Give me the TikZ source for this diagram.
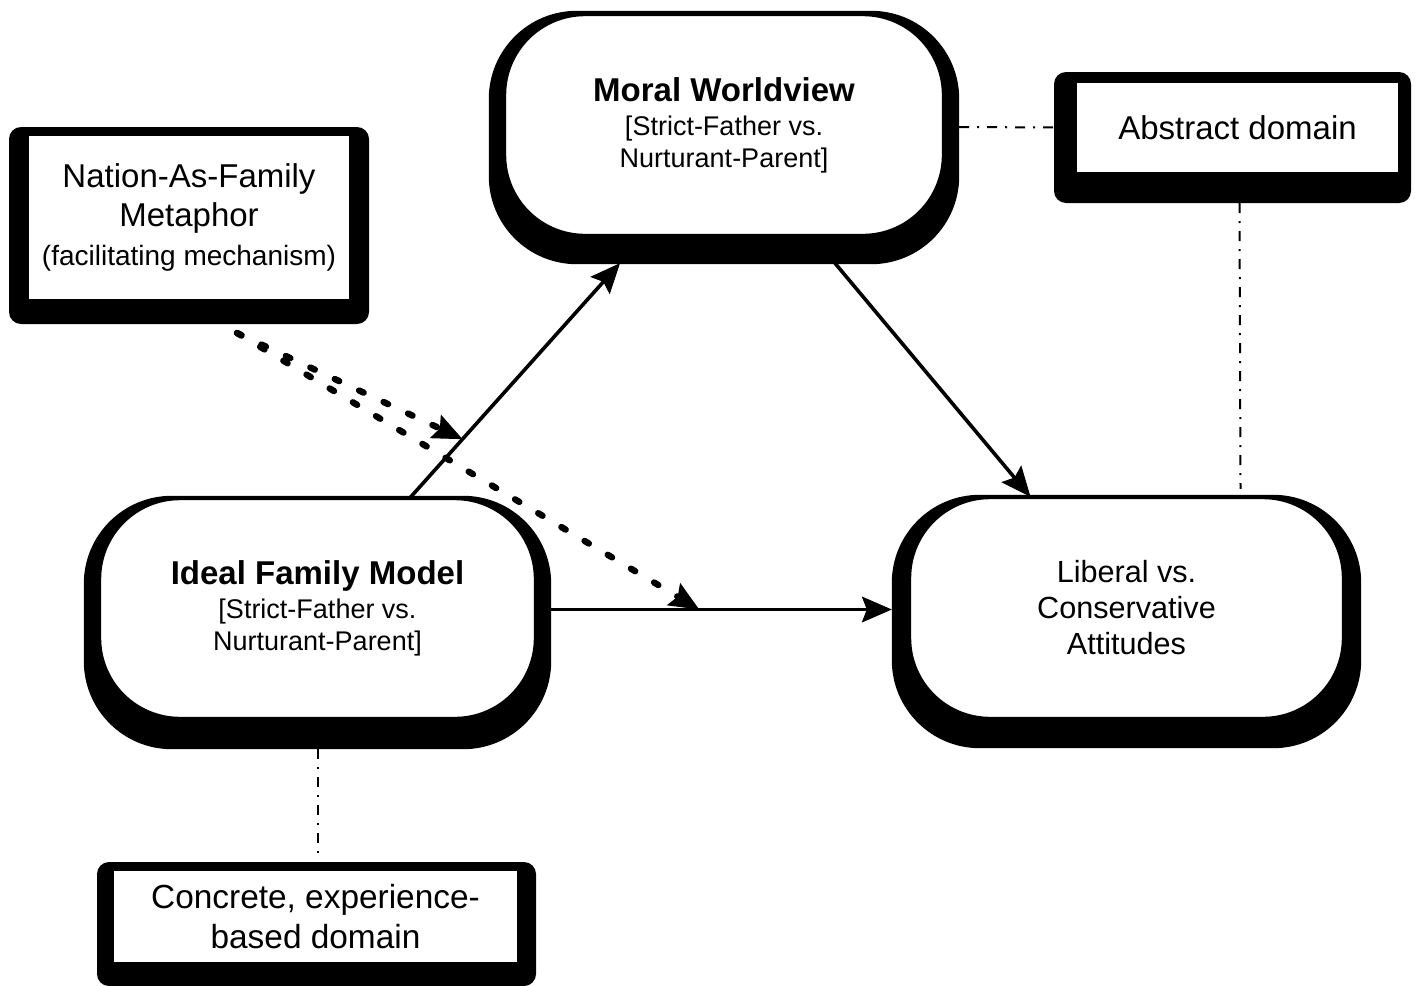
\documentclass[tikz,border=0pt]{standalone}
\usepackage{fontspec}
\setmainfont{Liberation Sans}
\usetikzlibrary{arrows.meta,calc}
\pgfdeclarelayer{bg}
\pgfsetlayers{bg,main}
\newcommand\myshadow[6]{\fill[black,rounded corners=#6] ($(#1.north west)+(-#2,-#3)$) rectangle ($(#1.south east)+(#4,#5)$);}
\begin{document}
\begin{tikzpicture}[x=0.5pt,y=-0.5pt,
 rbox/.style={draw,line width=1.2pt,fill=white,rounded corners=40pt,inner sep=0pt,align=center},
 sbox/.style={draw,line width=1pt,fill=white,inner sep=0pt,align=center},
 arr/.style={line width=1.8pt,-{Stealth[length=15pt,width=13pt,inset=2.5pt,line width=0.5pt]}},
 dotarr/.style={line width=3.2pt,dash pattern=on 2.5pt off 11pt,line cap=round,-{Stealth[length=15pt,width=13pt,inset=2.5pt,line width=0.5pt]}},
 dashdot/.style={line width=1pt,dash pattern=on 5pt off 4pt on 1pt off 4pt}]
\useasboundingbox (0,0) rectangle (1418,985);

\node[rbox,minimum width=219pt,minimum height=110pt,font=\fontsize{13.5}{16}\selectfont] (moral) at (724,125)
  {{\fontsize{16.5}{19}\selectfont\bfseries Moral Worldview}\\[1pt] [Strict-Father vs.\\ Nurturant-Parent]};
\node[rbox,minimum width=217.5pt,minimum height=109.5pt,font=\fontsize{13.5}{16}\selectfont] (ideal) at (317.5,608.5)
  {{\fontsize{16.5}{19}\selectfont\bfseries Ideal Family Model}\\[1pt] [Strict-Father vs.\\ Nurturant-Parent]};
\node[rbox,minimum width=216.5pt,minimum height=110pt,font=\fontsize{15.3}{18}\selectfont] (liberal) at (1126.5,608)
  {Liberal vs.\\ Conservative\\ Attitudes};
\node[sbox,minimum width=161pt,minimum height=82.5pt,font=\fontsize{16.5}{19.5}\selectfont] (nation) at (189,217.5)
  {Nation-As-Family\\ Metaphor\\ {\fontsize{14}{19.5}\selectfont (facilitating mechanism)}};
\node[sbox,minimum width=161.5pt,minimum height=45.5pt,font=\fontsize{16.5}{19.5}\selectfont] (abstract) at (1237.5,127.5)
  {Abstract domain};
\node[sbox,minimum width=202.5pt,minimum height=46.5pt,font=\fontsize{16.7}{20}\selectfont] (concrete) at (315.5,916.5)
  {Concrete, experience-\\ based domain};

\begin{pgfonlayer}{bg}
\myshadow{moral}{15}{3}{15}{28}{44pt}
\myshadow{ideal}{15}{2}{15}{30}{44pt}
\myshadow{liberal}{17}{2}{17}{29}{44pt}
\myshadow{nation}{18}{7}{18}{23}{6pt}
\myshadow{abstract}{21}{9}{11}{29}{6pt}
\myshadow{concrete}{15}{7}{17}{22}{6pt}
\end{pgfonlayer}

\coordinate (imout) at ($(ideal.north)+(92.5,0)$);
\coordinate (imin) at ($(moral.south)+(-104,27)$);
\coordinate (dstart) at ($(nation.south)+(48,32)$);
\draw[arr] (imout) -- (imin);
\draw[arr] ($(moral.south)+(111,27)$) -- ($(liberal.north)+(-96,0)$);
\draw[arr] ($(ideal.east)+(15,1)$) -- ($(liberal.west)+(-17,1.5)$);
\draw[dotarr] (dstart) -- ($(imout)!0.25!(imin)$);
\draw[dotarr] (dstart) -- ($(ideal.east)+(163,1)$);

\draw[dashdot] ($(moral.east)+(15,2)$) -- ($(abstract.west)+(-21,0)$);
\draw[dashdot] ($(abstract.south)+(2,29)$) -- ($(liberal.north)+(114,-8)$);
\draw[dashdot] ($(ideal.south)+(0,30)$) -- ($(concrete.north)+(2,-12)$);
\end{tikzpicture}
\end{document}
